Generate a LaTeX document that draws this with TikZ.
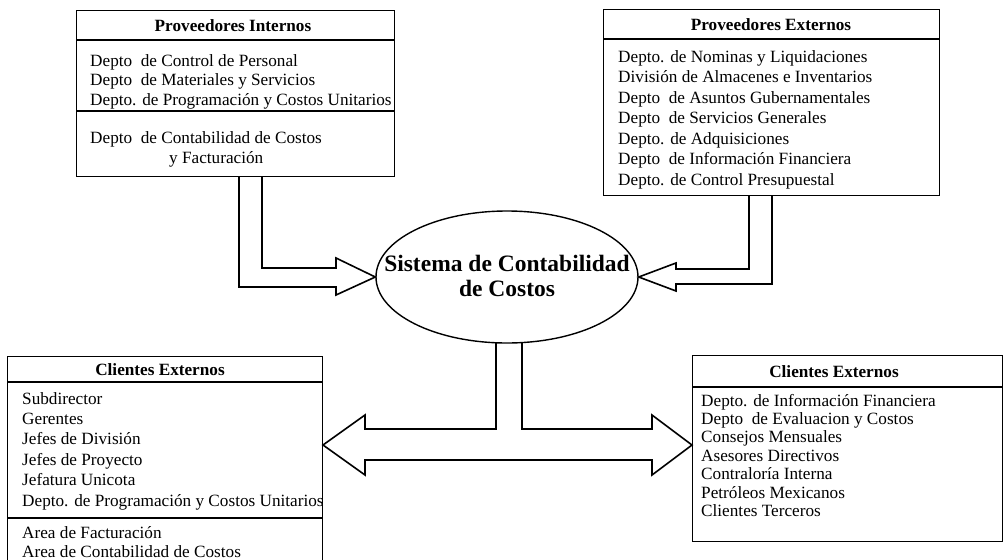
\documentclass[tikz,border=0pt]{standalone}
\usepackage{fontspec}
\setmainfont{Liberation Serif}
\usetikzlibrary{shapes.geometric}
\begin{document}
\begin{tikzpicture}[x=1pt,y=-1pt,
  frame/.style={draw, line width=1.4pt, rectangle, anchor=north west, inner sep=0pt},
  rule/.style={line width=1.6pt},
  item/.style={anchor=base west, inner sep=0pt, font=\fontsize{17.2}{20}\selectfont},
  head/.style={anchor=base, inner sep=0pt, font=\fontsize{17.2}{20}\selectfont\bfseries},
  title/.style={anchor=base, inner sep=0pt, font=\fontsize{23.5}{26}\selectfont\bfseries},
  blockarrow/.style={draw, line width=1.6pt, line join=miter}
]
\useasboundingbox (0,0) rectangle (1005,560);
\clip (0,0) rectangle (1005,560);

% ---- Proveedores Internos ----
\node[frame, minimum width=318pt, minimum height=166pt] (pi) at (76,10) {};
\draw[rule] (76,40) -- (394,40);
\draw[rule] (76,111) -- (394,111);
\node[head] (pi-h) at (233,31) {Proveedores Internos};
\foreach \t [count=\i] in {Depto\phantom{.} de Control de Personal,
    Depto\phantom{.} de Materiales y Servicios,
    Depto. de Programación y Costos Unitarios}
  \node[item] (pi-\i) at (90,{66+19.5*(\i-1)}) {\t};
\node[item] (pi-4) at (90,143) {Depto\phantom{.} de Contabilidad de Costos};
\node[item] (pi-5) at (169,163) {y Facturación};

% ---- Proveedores Externos ----
\node[frame, minimum width=336pt, minimum height=186pt] (pe) at (603,9) {};
\draw[rule] (603,39) -- (939,39);
\node[head] (pe-h) at (771,30) {Proveedores Externos};
\foreach \t [count=\i] in {Depto. de Nominas y Liquidaciones,
    División de Almacenes e Inventarios,
    Depto\phantom{.} de Asuntos Gubernamentales,
    Depto\phantom{.} de Servicios Generales,
    Depto. de Adquisiciones,
    Depto\phantom{.} de Información Financiera,
    Depto. de Control Presupuestal}
  \node[item] (pe-\i) at (618,{62+20.5*(\i-1)}) {\t};

% ---- Clientes Externos (izquierda) ----
\node[frame, minimum width=315pt, minimum height=230pt] (cl) at (7,356) {};
\draw[rule] (7,382) -- (322,382);
\draw[rule] (7,518) -- (322,518);
\node[head] (cl-h) at (160,375) {Clientes Externos};
\foreach \t [count=\i] in {Subdirector, Gerentes, Jefes de División,
    Jefes de Proyecto, Jefatura Unicota,
    Depto. de Programación y Costos Unitarios}
  \node[item] (cl-\i) at (22,{404+20.4*(\i-1)}) {\t};
\node[item] (cl-7) at (22,538) {Area de Facturación};
\node[item] (cl-8) at (22,557) {Area de Contabilidad de Costos};

% ---- Clientes Externos (derecha) ----
\node[frame, minimum width=310pt, minimum height=186pt] (cr) at (692,355) {};
\draw[rule] (692,387) -- (1002,387);
\node[head] (cr-h) at (834,377) {Clientes Externos};
\foreach \t [count=\i] in {Depto. de Información Financiera,
    Depto\phantom{.} de Evaluacion y Costos,
    Consejos Mensuales, Asesores Directivos,
    Contraloría Interna, Petróleos Mexicanos, Clientes Terceros}
  \node[item] (cr-\i) at (701,{406+18.4*(\i-1)}) {\t};

% ---- Sistema central ----
\node[draw, ellipse, line width=1.4pt, minimum width=262pt, minimum height=132pt, inner sep=0pt] (sys) at (507,277) {};
\node[title] (sys-1) at (507,271) {Sistema de Contabilidad};
\node[title] (sys-2) at (507,296) {de Costos};

% ---- Flechas de bloque ----
\draw[blockarrow] (239,176) -- (239,287) -- (336,287) -- (336,295) -- (sys.west)
  -- (336,258) -- (336,268) -- (262,268) -- (262,176);
\draw[blockarrow] (772,195) -- (772,284) -- (676,284) -- (676,291) -- (sys.east)
  -- (676,263) -- (676,269) -- (749,269) -- (749,195);
\coordinate (ltip) at (323,445);
\coordinate (rtip) at (692,445);
\draw[blockarrow] (496,343) -- (496,429) -- (365,429) -- (365,415) -- (ltip)
  -- (365,475) -- (365,460) -- (652,460) -- (652,475) -- (rtip)
  -- (652,415) -- (652,429) -- (522,429) -- (522,343);
\end{tikzpicture}
\end{document}
